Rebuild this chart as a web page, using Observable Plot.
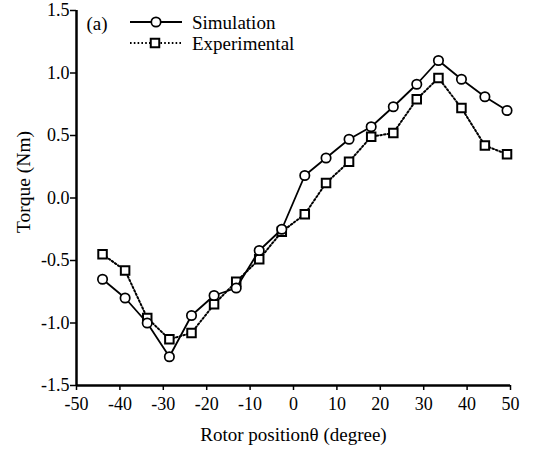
<!DOCTYPE html>
<html><head><meta charset="utf-8">
<script src="https://cdn.jsdelivr.net/npm/d3@7"></script>
<script src="https://cdn.jsdelivr.net/npm/@observablehq/plot@0.6"></script>
<style>
body{margin:0;background:#fff}
svg, svg text{font-family:"Liberation Serif","Times New Roman","DejaVu Serif",serif !important;}
</style>
</head><body><div id="chart"></div>
<script>
const angles = [-44.0,-38.8,-33.7,-28.6,-23.5,-18.3,-13.2,-7.9,-2.7,2.6,7.5,12.8,17.9,23.0,28.4,33.4,38.7,44.1,49.2];
const simulation = [-0.65,-0.80,-1.00,-1.27,-0.94,-0.78,-0.72,-0.42,-0.25,0.18,0.32,0.47,0.57,0.73,0.91,1.10,0.95,0.81,0.70];
const experimental = [-0.45,-0.58,-0.96,-1.13,-1.08,-0.85,-0.67,-0.49,-0.27,-0.13,0.12,0.29,0.49,0.52,0.79,0.96,0.72,0.42,0.35];
const xTicks = [-50,-40,-30,-20,-10,0,10,20,30,40,50];
const yTicks = [-1.5,-1.0,-0.5,0.0,0.5,1.0,1.5];
const seriesNames = ["Simulation","Experimental"];
const xLabel = "Rotor positionθ (degree)";
const yLabel = "Torque (Nm)";
const panelLabel = "(a)";

const simData = angles.map((x,i)=>({x, y: simulation[i]}));
const expData = angles.map((x,i)=>({x, y: experimental[i]}));

const plot = Plot.plot({
  width:539, height:457, marginLeft:76, marginRight:29, marginTop:10, marginBottom:72,
  style:{fontSize:"18px", color:"#000", background:"#fff"},
  x:{domain:[-50,50]}, y:{domain:[-1.5,1.5]},
  marks:[
    Plot.axisX(xTicks,{tickSize:5, tickPadding:7, tickFormat:d=>String(d), label:null, fontSize:18, strokeWidth:1.5}),
    Plot.axisY(yTicks,{tickSize:6, tickPadding:1, tickFormat:d=>d.toFixed(1), label:null, fontSize:18, strokeWidth:1.5}),
    Plot.ruleX([-50],{strokeWidth:2.5}),
    Plot.ruleY([-1.5],{strokeWidth:2.5}),
    Plot.line(expData,{x:"x",y:"y",strokeWidth:2,strokeDasharray:"1.6,2.2"}),
    Plot.dot(expData,{x:"x",y:"y",symbol:"square",r:4.8,fill:"white",stroke:"black",strokeWidth:2}),
    Plot.line(simData,{x:"x",y:"y",strokeWidth:1.8}),
    Plot.dot(simData,{x:"x",y:"y",r:4.7,fill:"white",stroke:"black",strokeWidth:1.7}),
    Plot.text([xLabel],{text:d=>d, frameAnchor:"bottom", lineAnchor:"middle", dy:49, fontSize:19}),
    Plot.text([yLabel],{text:d=>d, frameAnchor:"left", lineAnchor:"middle", dx:-53, dy:35, rotate:-90, fontSize:19.5}),
    Plot.text([panelLabel],{text:d=>d, frameAnchor:"top-left", lineAnchor:"middle", textAnchor:"start", dx:10, dy:13, fontSize:19})
  ]
});
document.getElementById("chart").appendChild(plot);

// legend
const svg = d3.select(plot);
const lg = svg.append("g").attr("font-size",19).attr("text-anchor","start");
const rows = [
  {name:seriesNames[0], y:22, dash:null, sym:"circle"},
  {name:seriesNames[1], y:43, dash:"1.6,2.2", sym:"square"}
];
rows.forEach(r=>{
  lg.append("line").attr("x1",130).attr("x2",182).attr("y1",r.y).attr("y2",r.y)
    .attr("stroke","black").attr("stroke-width",r.dash?2:1.8).attr("stroke-dasharray",r.dash);
  if(r.sym==="circle"){
    lg.append("circle").attr("cx",156).attr("cy",r.y).attr("r",4.7).attr("fill","white").attr("stroke","black").attr("stroke-width",1.7);
  } else {
    lg.append("rect").attr("x",155-4.25).attr("y",r.y-4.25).attr("width",8.5).attr("height",8.5).attr("fill","white").attr("stroke","black").attr("stroke-width",2);
  }
  lg.append("text").attr("x",192).attr("y",r.y).attr("dy","0.35em").attr("fill","black").text(r.name);
});
</script>
</body></html>
